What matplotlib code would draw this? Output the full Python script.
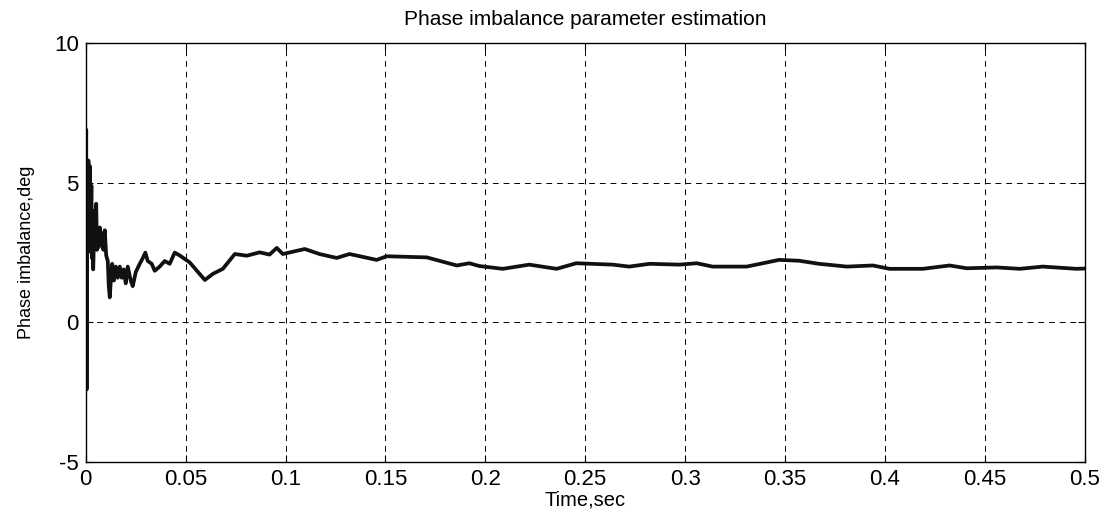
import numpy as np
import matplotlib.pyplot as plt

plt.rcParams.update({
    "font.family": ["Liberation Sans", "DejaVu Sans"],
    "axes.linewidth": 1.0,
    "axes.unicode_minus": False,
})

# values (time in s, phase imbalance in deg)
t = [0.0, 0.0002, 0.0004, 0.0007, 0.001, 0.0013, 0.0016, 0.002, 0.0024, 0.0028,
     0.0031, 0.0034, 0.0037, 0.0042, 0.0047, 0.0052, 0.0056, 0.006, 0.0065, 0.007,
     0.0075, 0.008, 0.0088, 0.0095, 0.0102, 0.011, 0.0115, 0.012, 0.0127, 0.0132,
     0.014, 0.015, 0.016, 0.017, 0.018, 0.019, 0.02, 0.021, 0.0225, 0.0235,
     0.025, 0.027, 0.0285, 0.0298, 0.031, 0.033, 0.0345, 0.037, 0.0395, 0.042,
     0.0445, 0.047, 0.052, 0.0555, 0.0596, 0.0636, 0.0686, 0.0746, 0.0806, 0.087,
     0.092, 0.0956, 0.0986, 0.1096, 0.117, 0.1256, 0.132, 0.1456, 0.1506, 0.1707,
     0.1857, 0.192, 0.197, 0.2087, 0.222, 0.2357, 0.2455, 0.2638, 0.272, 0.2823,
     0.2973, 0.3058, 0.3138, 0.3308, 0.339, 0.347, 0.357, 0.367, 0.381, 0.394,
     0.4024, 0.419, 0.4324, 0.441, 0.456, 0.4675, 0.479, 0.496, 0.5]
phase = [0.0, 6.9, -2.4, 5.5, 2.5, 5.8, 2.8, 5.6, 3.0, 4.9,
         2.3, 4.0, 1.9, 3.3, 2.7, 4.25, 2.6, 3.3, 2.7, 3.4,
         2.8, 3.2, 2.6, 3.3, 2.4, 2.2, 1.3, 0.9, 1.7, 2.1,
         1.5, 2.0, 1.6, 2.0, 1.6, 1.9, 1.4, 2.0, 1.5, 1.3,
         1.8, 2.1, 2.3, 2.5, 2.2, 2.1, 1.85, 2.0, 2.2, 2.1,
         2.5, 2.4, 2.15, 1.86, 1.52, 1.74, 1.92, 2.45, 2.39, 2.51,
         2.43, 2.67, 2.45, 2.63, 2.45, 2.31, 2.45, 2.24, 2.37, 2.33,
         2.04, 2.12, 2.02, 1.92, 2.07, 1.92, 2.12, 2.07, 2.0, 2.1,
         2.07, 2.12, 2.0, 2.0, 2.12, 2.24, 2.21, 2.1, 2.0, 2.04,
         1.92, 1.92, 2.04, 1.94, 1.97, 1.92, 2.0, 1.92, 1.93]

xticks = [0, 0.05, 0.1, 0.15, 0.2, 0.25, 0.3, 0.35, 0.4, 0.45, 0.5]
xticklabels = ["0", "0.05", "0.1", "0.15", "0.2", "0.25", "0.3", "0.35", "0.4", "0.45", "0.5"]
yticks = [-5, 0, 5, 10]

fig = plt.figure(figsize=(11, 5.14), dpi=100)
ax = fig.add_axes([0.078, 0.101, 0.908, 0.815])

ax.plot(t, phase, color="#111111", linewidth=2.7, solid_joinstyle="round")

ax.set_xlim(0, 0.5)
ax.set_ylim(-5, 10)
ax.set_xticks(xticks)
ax.set_xticklabels(xticklabels)
ax.set_yticks(yticks)
ax.grid(True, color="black", linestyle=(0, (6, 5)), linewidth=0.7)
ax.tick_params(axis="both", direction="in", top=True, right=True,
               length=5, width=0.8, labelsize=16, pad=5)
for s in ax.spines.values():
    s.set_linewidth(1.0)

ax.set_title("Phase imbalance parameter estimation", fontsize=15, pad=13)
ax.set_xlabel("Time,sec", fontsize=14.5, labelpad=0)
ax.set_ylabel("Phase imbalance,deg", fontsize=13, labelpad=14)

fig.savefig("out.png", dpi=100, facecolor="white")
